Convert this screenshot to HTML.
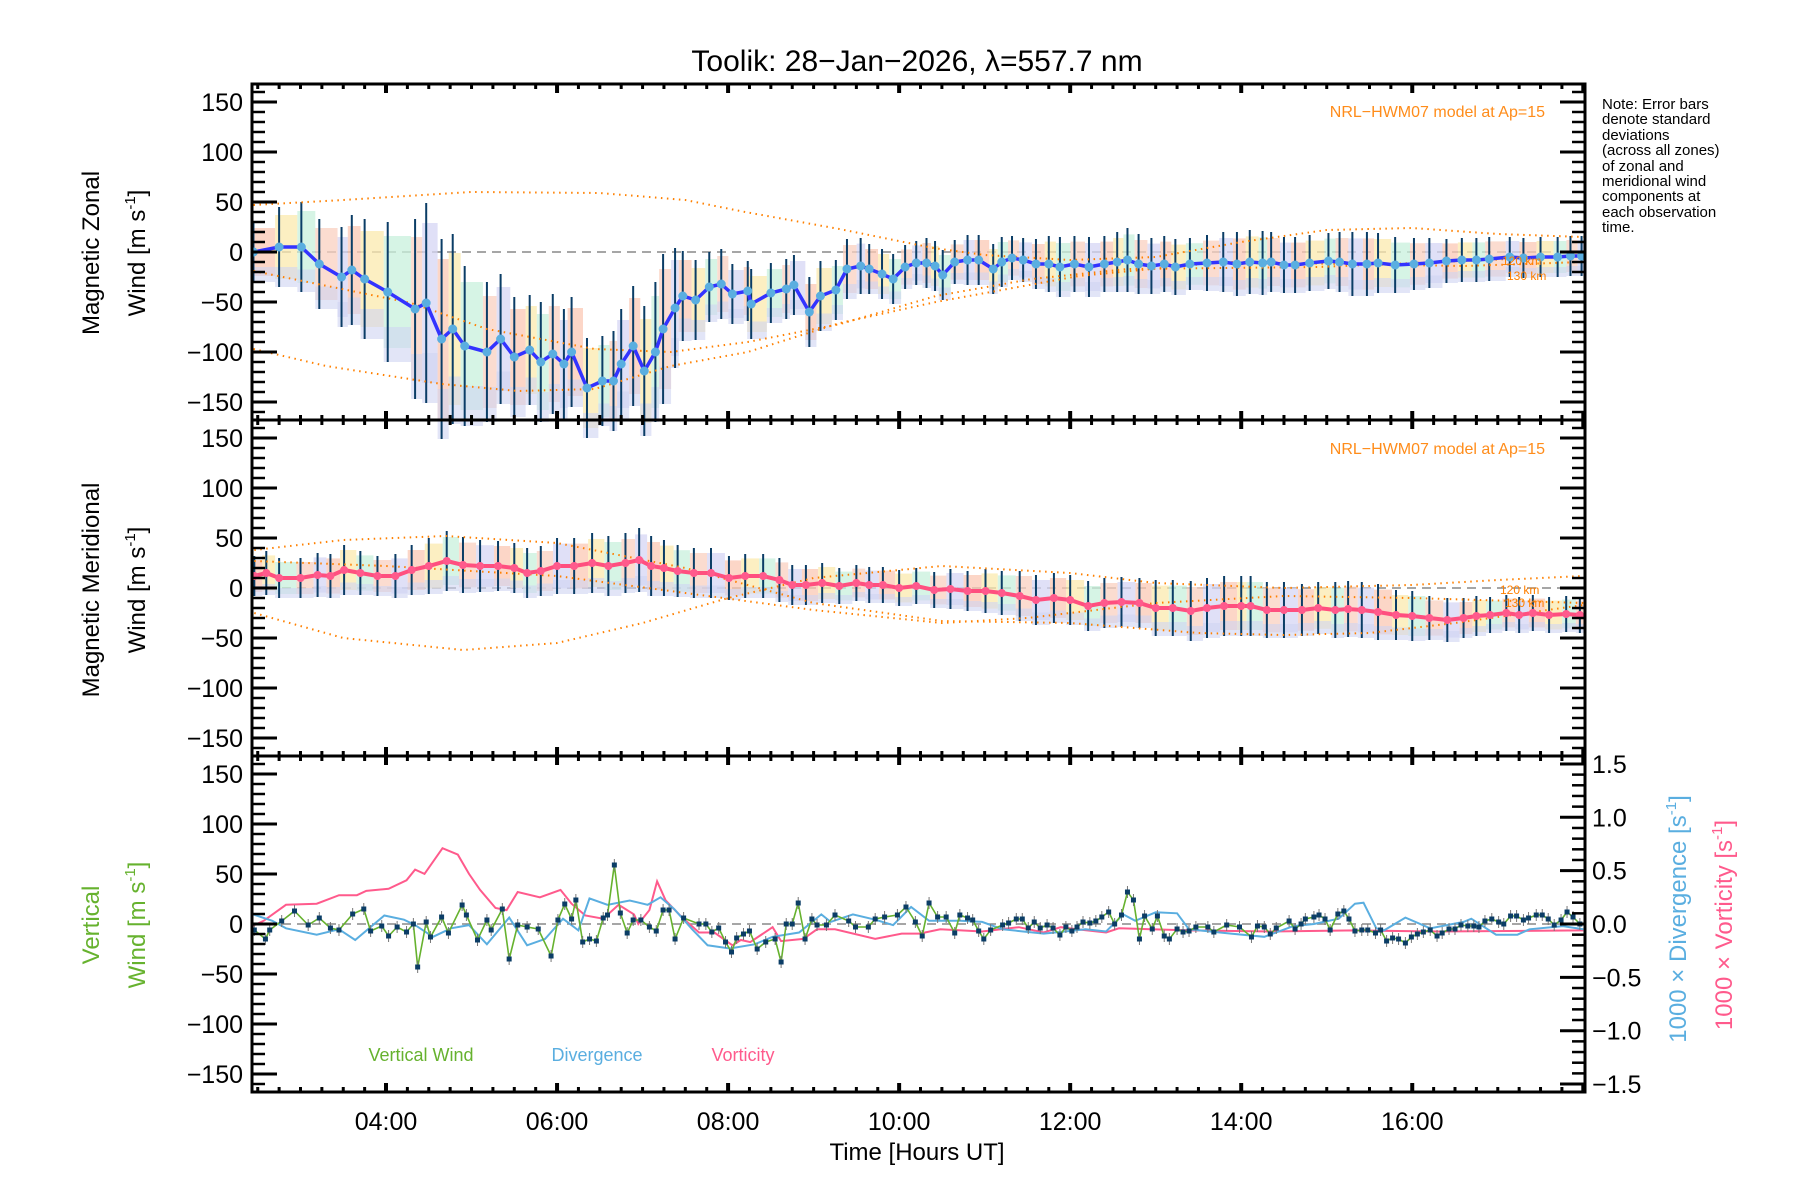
<!DOCTYPE html>
<html><head><meta charset="utf-8"><title>Toolik winds</title>
<style>
html,body{margin:0;padding:0;background:#fff;}
svg{display:block;font-family:"Liberation Sans",sans-serif;}
</style></head>
<body>
<svg id="chart" width="1800" height="1200" viewBox="0 0 1800 1200" xmlns="http://www.w3.org/2000/svg">
<defs><clipPath id="plotclip"><rect x="252" y="84" width="1333" height="1008"/></clipPath></defs>
<text x="917" y="71" font-size="30" text-anchor="middle">Toolik: 28−Jan−2026, λ=557.7 nm</text>
<g font-size="15">
<text x="1602" y="109">Note: Error bars</text><text x="1602" y="124">denote standard</text><text x="1602" y="140">deviations</text><text x="1602" y="155">(across all zones)</text><text x="1602" y="171">of zonal and</text><text x="1602" y="186">meridional wind</text><text x="1602" y="201">components at</text><text x="1602" y="217">each observation</text><text x="1602" y="232">time.</text>
</g>
<g id="layer-bg" clip-path="url(#plotclip)"></g>
<g id="layer-marks" clip-path="url(#plotclip)"></g>
<g id="layer-axes"></g>
<g font-size="24">
<text transform="translate(99,253) rotate(-90)" text-anchor="middle">Magnetic Zonal</text>
<text transform="translate(145,253) rotate(-90)" text-anchor="middle">Wind [m s<tspan font-size="15" dy="-10">-1</tspan><tspan dy="10">]</tspan></text>
</g>
<g font-size="24">
<text transform="translate(99,590) rotate(-90)" text-anchor="middle">Magnetic Meridional</text>
<text transform="translate(145,590) rotate(-90)" text-anchor="middle">Wind [m s<tspan font-size="15" dy="-10">-1</tspan><tspan dy="10">]</tspan></text>
</g>
<g font-size="24" fill="#66b22e">
<text transform="translate(99,925) rotate(-90)" text-anchor="middle">Vertical</text>
<text transform="translate(145,925) rotate(-90)" text-anchor="middle">Wind [m s<tspan font-size="15" dy="-10">-1</tspan><tspan dy="10">]</tspan></text>
</g>
<text transform="translate(1686,919) rotate(-90)" text-anchor="middle" font-size="24" fill="#5aaee0">1000 × Divergence [s<tspan font-size="15" dy="-10">-1</tspan><tspan dy="10">]</tspan></text>
<text transform="translate(1732,925) rotate(-90)" text-anchor="middle" font-size="24" fill="#ff5a8c">1000 × Vorticity [s<tspan font-size="15" dy="-10">-1</tspan><tspan dy="10">]</tspan></text>
<text x="1545" y="117" font-size="16" text-anchor="end" fill="#ff8c1a">NRL−HWM07 model at Ap=15</text>
<text x="1545" y="454" font-size="16" text-anchor="end" fill="#ff8c1a">NRL−HWM07 model at Ap=15</text>
<g font-size="12" fill="#ff8000">
<text x="1502" y="265">120 km</text>
<text x="1507" y="280">130 km</text>
<text x="1500" y="594">120 km</text>
<text x="1505" y="607">130 km</text>
</g>
<g font-size="18">
<text x="421" y="1061" text-anchor="middle" fill="#66b22e">Vertical Wind</text>
<text x="597" y="1061" text-anchor="middle" fill="#5aaee0">Divergence</text>
<text x="743" y="1061" text-anchor="middle" fill="#ff5a8c">Vorticity</text>
</g>
<text x="917" y="1160" font-size="24" text-anchor="middle">Time [Hours UT]</text>
</svg>
<script>
// ---- data ----
const xTickLabels = ["04:00","06:00","08:00","10:00","12:00","14:00","16:00"];
const xTickHours = [4,6,8,10,12,14,16];
const yTickValues = [-150,-100,-50,0,50,100,150];
const rTickValues = [-1.5,-1.0,-0.5,0.0,0.5,1.0,1.5];

const zonT = [2.45,2.75,3.01,3.22,3.48,3.6,3.75,4.02,4.34,4.47,
4.65,4.78,4.92,5.18,5.34,5.5,5.68,5.81,5.95,6.08,
6.17,6.35,6.53,6.66,6.75,6.89,7.02,7.15,7.24,7.38,
7.47,7.62,7.78,7.92,8.05,8.23,8.27,8.5,8.68,8.77,
8.95,9.08,9.26,9.39,9.55,9.65,9.8,9.93,10.07,10.2,
10.32,10.42,10.51,10.65,10.8,10.93,11.1,11.2,11.32,11.45,
11.6,11.75,11.88,12.05,12.22,12.4,12.55,12.67,12.8,12.95,
13.1,13.23,13.4,13.6,13.79,13.95,14.1,14.25,14.35,14.5,
14.63,14.8,15.02,15.15,15.3,15.47,15.6,15.8,16.02,16.2,
16.4,16.58,16.75,16.9,17.14,17.3,17.5,17.7,17.85,17.98];
const zonV = [0,5,5,-12,-25,-18,-27,-40,-57,-51,
-87,-77,-94,-100,-87,-105,-98,-110,-102,-112,
-100,-136,-129,-129,-112,-94,-119,-100,-77,-56,
-44,-48,-35,-32,-42,-39,-52,-41,-37,-33,
-60,-44,-38,-17,-14,-17,-22,-27,-15,-11,
-11,-14,-23,-10,-8,-8,-17,-10,-6,-8,
-12,-12,-15,-12,-15,-12,-10,-8,-12,-14,
-12,-15,-12,-11,-10,-12,-10,-11,-10,-13,
-13,-11,-9,-10,-12,-12,-11,-13,-12,-11,
-9,-8,-8,-7,-5,-6,-5,-5,-4,-4];
const zonS = [30,40,45,45,50,55,60,70,90,100,
100,95,80,70,65,60,55,60,60,55,
55,50,45,50,55,60,65,70,75,60,
45,40,35,35,30,30,35,30,30,30,
35,35,30,30,28,25,25,25,22,22,
25,25,25,22,25,25,25,25,22,22,
25,28,30,28,30,28,30,32,30,28,
28,28,26,28,30,32,32,32,30,28,
28,28,28,30,32,32,30,28,26,25,
22,22,22,22,20,20,20,20,20,20];

const merT = [2.46,2.6,2.75,3.0,3.2,3.35,3.51,3.7,3.9,4.11,
4.3,4.5,4.71,4.9,5.1,5.31,5.5,5.65,5.81,6.0,
6.2,6.41,6.6,6.8,6.96,7.1,7.25,7.41,7.6,7.8,
8.01,8.2,8.41,8.6,8.75,8.91,9.1,9.3,9.5,9.65,
9.81,10.0,10.2,10.41,10.6,10.8,11.01,11.2,11.41,11.6,
11.81,12.0,12.21,12.4,12.6,12.81,13.0,13.2,13.41,13.6,
13.8,14.0,14.11,14.3,14.5,14.71,14.9,15.1,15.25,15.41,
15.6,15.81,16.0,16.2,16.41,16.6,16.75,16.91,17.1,17.25,
17.41,17.6,17.8,17.96];
const merV = [12,15,10,10,13,12,18,15,12,12,
18,22,27,23,22,22,20,15,17,22,
22,25,22,25,28,22,20,17,15,15,
10,12,12,8,3,3,5,2,5,3,
3,0,2,-2,-1,-3,-3,-5,-8,-12,
-10,-12,-18,-15,-14,-15,-20,-20,-23,-20,
-18,-18,-18,-22,-22,-22,-20,-22,-21,-22,
-24,-27,-28,-30,-32,-30,-28,-27,-25,-27,
-25,-27,-26,-27];
const merS = [20,22,20,20,22,22,25,22,20,22,
25,28,30,28,26,25,25,25,25,28,
28,30,30,30,32,30,28,26,25,25,
22,22,22,22,20,20,20,18,18,18,
18,18,18,18,20,20,22,22,25,25,
25,25,25,25,25,25,28,28,30,30,
30,30,30,28,28,26,26,28,28,28,
28,25,25,22,22,20,20,18,18,18,
18,18,18,18];

const mz1T = [2.45,3.5,5,6.5,7.5,8.2,9.3,10.4,11,12,13,14,15,16,17,18];
const mz1V = [47,52,60,59,52,40,23,4,-3,-8,-5,10,22,24,18,15];
const mz2T = [2.45,4.29,5.18,6.44,7.33,8.23,9.31,10.43,11.55,12.67,14.9,16.58,18];
const mz2V = [-19,-51,-77,-97,-100,-90,-72,-44,-27,-17,-15,-9,-4];
const mz3T = [2.45,3.3,4.65,5.54,6.44,7.33,8.23,9.31,10.43,12.1,13.8,16.6,18];
const mz3V = [-97,-114,-132,-139,-137,-114,-100,-71,-50,-24,-10,-14,-10];
const mm1T = [2.46,3.5,4.7,6,7.5,9,10.5,12,13.5,14.5,15.5,16.5,18];
const mm1V = [38,48,52,45,20,-15,-33,-35,-45,-47,-45,-35,-17];
const mm2T = [2.46,3.5,4.9,6,7,8,9,10.5,12,13,14.5,16,17,18];
const mm2V = [-25,-50,-62,-55,-35,-10,10,22,15,5,0,3,8,12];
const mm3T = [2.46,4,6,7.5,9,10.5,11.5,13,14.5,16,18];
const mm3V = [27,22,12,-5,-22,-35,-30,-15,-8,-10,-15];

const vwT = [2.46,2.59,2.64,2.78,2.93,3.09,3.22,3.35,3.45,3.61,
3.74,3.82,3.95,4.03,4.13,4.24,4.32,4.37,4.47,4.52,
4.65,4.73,4.89,4.94,5.07,5.18,5.23,5.36,5.44,5.54,
5.65,5.78,5.93,6.01,6.09,6.17,6.22,6.3,6.38,6.46,
6.54,6.59,6.67,6.74,6.82,6.89,6.98,7.08,7.16,7.24,
7.31,7.38,7.48,7.66,7.74,7.81,7.89,7.97,8.04,8.1,
8.18,8.25,8.34,8.44,8.55,8.62,8.68,8.75,8.82,8.9,
8.98,9.04,9.15,9.25,9.41,9.49,9.64,9.72,9.83,9.98,
10.08,10.19,10.27,10.35,10.45,
10.55,10.65,10.71,10.8,10.86,10.93,10.99,11.07,11.21,11.28,
11.37,11.44,11.51,11.58,11.65,11.73,11.8,11.88,11.95,12.02,
12.08,12.15,12.23,12.3,12.37,12.45,12.52,12.6,12.67,12.74,
12.81,12.87,12.96,13.02,13.1,13.16,13.25,13.32,13.39,13.47,
13.61,13.68,13.83,13.98,14.12,14.19,14.27,14.34,14.41,14.56,
14.63,14.7,14.75,14.85,14.91,14.98,15.04,15.13,15.2,15.26,
15.33,15.41,15.48,15.57,15.63,15.7,15.77,15.84,15.92,15.99,
16.06,16.13,16.21,16.29,16.35,16.43,16.5,16.57,16.65,16.72,
16.78,16.85,16.93,17.01,17.07,17.15,17.22,17.3,17.36,17.45,
17.52,17.59,17.66,17.74,17.81,17.88,17.96];
const vwV = [-6,-15,-6,3,13,-1,6,-4,-6,10,
15,-7,-2,-12,-3,-8,0,-43,2,-13,
7,-9,19,9,-16,4,-6,15,-35,-1,
-3,-5,-32,4,20,5,24,-18,-15,-17,
6,9,59,11,-9,4,4,-3,-7,14,
14,-15,6,0,0,-8,-4,-18,-28,-14,
-10,-7,-25,-18,-15,-38,0,0,21,-15,
5,-1,-1,9,3,-3,-3,5,7,9,
17,2,-12,21,7,
7,-9,9,6,4,-7,-15,-6,-1,1,
5,5,-4,2,-4,-1,-4,-11,-3,-7,
-3,2,1,3,7,12,0,9,32,24,
-15,8,-5,8,-12,-15,-5,-8,-7,-3,
-3,-8,-1,-3,-13,-2,-3,-10,-4,3,
-5,0,5,7,9,5,-6,10,13,5,
-7,-6,-6,-9,-6,-17,-14,-15,-19,-13,
-10,-8,-6,-12,-9,-5,-5,-1,-2,-2,
-3,3,5,2,0,8,8,4,6,9,
9,5,-1,4,12,7,0];

const divT = [2.41,2.67,2.83,3.19,3.45,3.64,3.98,4.21,4.34,4.55,
4.76,4.97,5.18,5.44,5.65,5.86,6.07,6.25,6.38,6.59,
6.85,7.06,7.21,7.37,7.58,7.76,8.02,8.31,8.52,8.83,
9.09,9.2,9.46,9.72,9.93,10.14,10.35,10.72,10.97,11.21,
11.69,11.94,12.18,12.42,12.62,12.76,13.0,13.25,13.39,13.88,
14.27,14.61,14.85,15.14,15.33,15.43,15.58,15.67,15.92,16.21,
16.6,16.69,16.98,17.23,17.37,17.76,18.0];
const divV = [0.10,0.03,-0.04,-0.10,-0.05,-0.15,0.08,0.04,-0.01,-0.12,
-0.04,-0.01,-0.19,0.06,-0.20,-0.14,0.05,-0.06,0.24,0.18,
0.22,0.18,0.25,0.14,-0.05,-0.20,-0.23,-0.19,-0.12,-0.08,
0.09,0.02,0.09,0.04,-0.01,0.16,0.03,0.03,0.02,-0.05,
-0.09,-0.07,-0.05,-0.07,0.09,0.03,0.11,0.10,-0.05,-0.09,
-0.12,-0.02,0.0,0.05,0.19,0.20,-0.04,-0.06,0.06,-0.04,
0.02,0.05,-0.10,-0.10,-0.05,-0.02,-0.05];

const vorT = [2.41,2.57,2.83,3.19,3.45,3.66,3.77,4.03,4.24,4.34,
4.45,4.66,4.84,4.97,5.1,5.28,5.41,5.54,5.8,6.04,
6.17,6.33,6.54,6.72,6.9,6.95,7.08,7.17,7.27,7.45,
7.66,7.84,8.05,8.15,8.26,8.52,8.62,8.88,9.04,9.25,
9.72,10.03,10.24,10.48,10.97,11.4,11.69,11.89,12.08,12.42,
12.57,13.39,14.36,15.33,16.31,18.0];
const vorV = [-0.03,0.03,0.18,0.19,0.27,0.27,0.31,0.33,0.41,0.51,
0.47,0.71,0.65,0.47,0.32,0.15,0.13,0.30,0.25,0.32,
0.19,0.08,0.05,0.18,0.09,0.0,0.13,0.40,0.22,0.07,
-0.08,-0.08,-0.20,-0.15,-0.17,-0.03,-0.16,-0.14,-0.05,-0.05,
-0.14,-0.09,-0.09,-0.05,-0.07,-0.03,-0.08,-0.03,-0.05,-0.08,
-0.04,-0.06,-0.07,-0.06,-0.07,-0.06];

// ---- scales ----
const L = 252, R = 1585, H0 = 2.433, H1 = 18.02;
const panelTop = [84, 420, 756];
const PH = 336;
function X(h){ return L + (h - H0) * (R - L) / (H1 - H0); }
function Y(v, p){ return panelTop[p] + PH/2 - v * (PH/2) / 168; }
function YR(v){ return panelTop[2] + PH/2 - v * 106.7; }

const NS = "http://www.w3.org/2000/svg";
const bg = document.getElementById('layer-bg');
const marks = document.getElementById('layer-marks');
const axes = document.getElementById('layer-axes');
function mk(tag, parent, attrs){
  const e = document.createElementNS(NS, tag);
  for (const k in attrs) e.setAttribute(k, attrs[k]);
  parent.appendChild(e);
  return e;
}
function pathFrom(T, V, fy){
  let d = "";
  for (let i = 0; i < T.length; i++) d += (i ? "L" : "M") + X(T[i]).toFixed(1) + " " + fy(V[i]).toFixed(1);
  return d;
}

// zero dashed lines
for (let p = 0; p < 3; p++){
  const z = mk('line', bg, {x1:L, x2:R, y1:Y(0,p), y2:Y(0,p), stroke:'#888', 'stroke-width':1.5, 'stroke-dasharray':'9,6'});
  
  
}

// zone boxes + error bars
const zoneColors = ['#fbc8b4','#fbe9ae','#c8f0dc','#f9d0c0','#d6d6f4'];
function zones(T, V, S, p, nameBase){
  for (let i = 0; i < T.length; i++){
    const x0 = X(T[i]) - 4;
    const w = i < T.length - 1 ? Math.max(6, X(T[i+1]) - X(T[i])) : 8;
    const r = mk('rect', bg, {x:x0, y:Y(V[i] + S[i]*0.8, p), width:w, height:(S[i]*1.6), fill:zoneColors[i % 5], opacity:0.75});
    
    
    const r2 = mk('rect', bg, {x:x0, y:Y(V[i] - S[i]*0.5, p), width:w, height:(S[i]*0.5), fill:'#cfd4f2', opacity:0.6});
    
    
  }
  for (let i = 0; i < T.length; i++){
    const b = mk('line', marks, {x1:X(T[i]), x2:X(T[i]), y1:Y(V[i]+S[i],p), y2:Y(V[i]-S[i],p), stroke:'#0b3d66', 'stroke-width':2});
    
    
  }
}
zones(zonT, zonV, zonS, 0, 'zonal');
zones(merT, merV, merS, 1, 'meridional');

// model curves
function model(T, V, p, name){
  const m = mk('path', marks, {d:pathFrom(T, V, v => Y(v,p)), fill:'none', stroke:'#ff8000', 'stroke-width':2, 'stroke-dasharray':'1.5,4.5'});
  
  
}
model(mz1T, mz1V, 0, 'model-zonal-upper');
model(mz2T, mz2V, 0, 'model-zonal-120km');
model(mz3T, mz3V, 0, 'model-zonal-130km');
model(mm1T, mm1V, 1, 'model-meridional-a');
model(mm2T, mm2V, 1, 'model-meridional-120km');
model(mm3T, mm3V, 1, 'model-meridional-130km');

// mean lines
const zl = mk('path', marks, {d:pathFrom(zonT, zonV, v => Y(v,0)), fill:'none', stroke:'#3333ff', 'stroke-width':3.5});


for (let i = 0; i < zonT.length; i++){
  const c = mk('circle', marks, {cx:X(zonT[i]), cy:Y(zonV[i],0), r:4.5, fill:'#5aaee0'});
  
  
}
const ml = mk('path', marks, {d:pathFrom(merT, merV, v => Y(v,1)), fill:'none', stroke:'#ff4f7f', 'stroke-width':4});


for (let i = 0; i < merT.length; i++){
  const c = mk('circle', marks, {cx:X(merT[i]), cy:Y(merV[i],1), r:4, fill:'#ff5a8c'});
  
  
}

// panel 3
const vo = mk('path', marks, {d:pathFrom(vorT, vorV, YR), fill:'none', stroke:'#ff5a8c', 'stroke-width':2});


const dv = mk('path', marks, {d:pathFrom(divT, divV, YR), fill:'none', stroke:'#5aaee0', 'stroke-width':2});


const vw = mk('path', marks, {d:pathFrom(vwT, vwV, v => Y(v,2)), fill:'none', stroke:'#66b22e', 'stroke-width':1.6});


for (let i = 0; i < vwT.length; i++){
  const e = mk('line', marks, {x1:X(vwT[i]), x2:X(vwT[i]), y1:Y(vwV[i]+6,2), y2:Y(vwV[i]-6,2), stroke:'#777', 'stroke-width':1});
  
  
  const s = mk('rect', marks, {x:X(vwT[i])-2.5, y:Y(vwV[i],2)-2.5, width:5, height:5, fill:'#0b3d66'});
  
  
}

// axes
for (let p = 0; p < 3; p++){
  const fr = mk('rect', axes, {x:L, y:panelTop[p], width:R-L, height:PH, fill:'none', stroke:'#000', 'stroke-width':3});
  
  
  for (let v = -160; v <= 160; v += 10){
    const major = v % 50 === 0;
    const len = major ? 25 : 13;
    const y = Y(v,p);
    const t = mk('line', axes, {x1:L, x2:L+len, y1:y, y2:y, stroke:'#000', 'stroke-width':major?3:2.5});
    
    
    if (p < 2){
      const t2 = mk('line', axes, {x1:R, x2:R-len, y1:y, y2:y, stroke:'#000', 'stroke-width':major?3:2.5});
      
      
    }
  }
  for (const v of yTickValues){
    const lb = mk('text', axes, {x:243, y:Y(v,p)+9, 'font-size':25, 'text-anchor':'end'});
    lb.textContent = (v < 0 ? '−' + (-v) : String(v));
    
    
  }
  for (let q = 0; q <= 62; q++){
    const h = 2.5 + q * 0.25;
    if (h > H1) break;
    const x = X(h);
    const major = Math.abs(h/2 - Math.round(h/2)) < 1e-6;
    const len = major ? 9 : 5;
    const a = mk('line', axes, {x1:x, x2:x, y1:panelTop[p]+PH, y2:panelTop[p]+PH-len, stroke:'#000', 'stroke-width':major?4:3});
    
    
    const b = mk('line', axes, {x1:x, x2:x, y1:panelTop[p], y2:panelTop[p]+len, stroke:'#000', 'stroke-width':major?4:3});
    
    
  }
}
// right axis panel 3
for (let k = -15; k <= 15; k++){
  const v = k / 10;
  const major = k % 5 === 0;
  const len = major ? 25 : 13;
  const t = mk('line', axes, {x1:R, x2:R-len, y1:YR(v), y2:YR(v), stroke:'#000', 'stroke-width':major?3:2.5});
  
  
}
for (const v of rTickValues){
  const lb = mk('text', axes, {x:1592, y:YR(v)+9, 'font-size':25});
  lb.textContent = (v < 0 ? '−' : '') + Math.abs(v).toFixed(1);
  
  
}
for (let i = 0; i < xTickLabels.length; i++){
  const lb = mk('text', axes, {x:X(xTickHours[i]), y:1130, 'font-size':25, 'text-anchor':'middle'});
  lb.textContent = xTickLabels[i];
  
  
}
</script>
</body></html>
